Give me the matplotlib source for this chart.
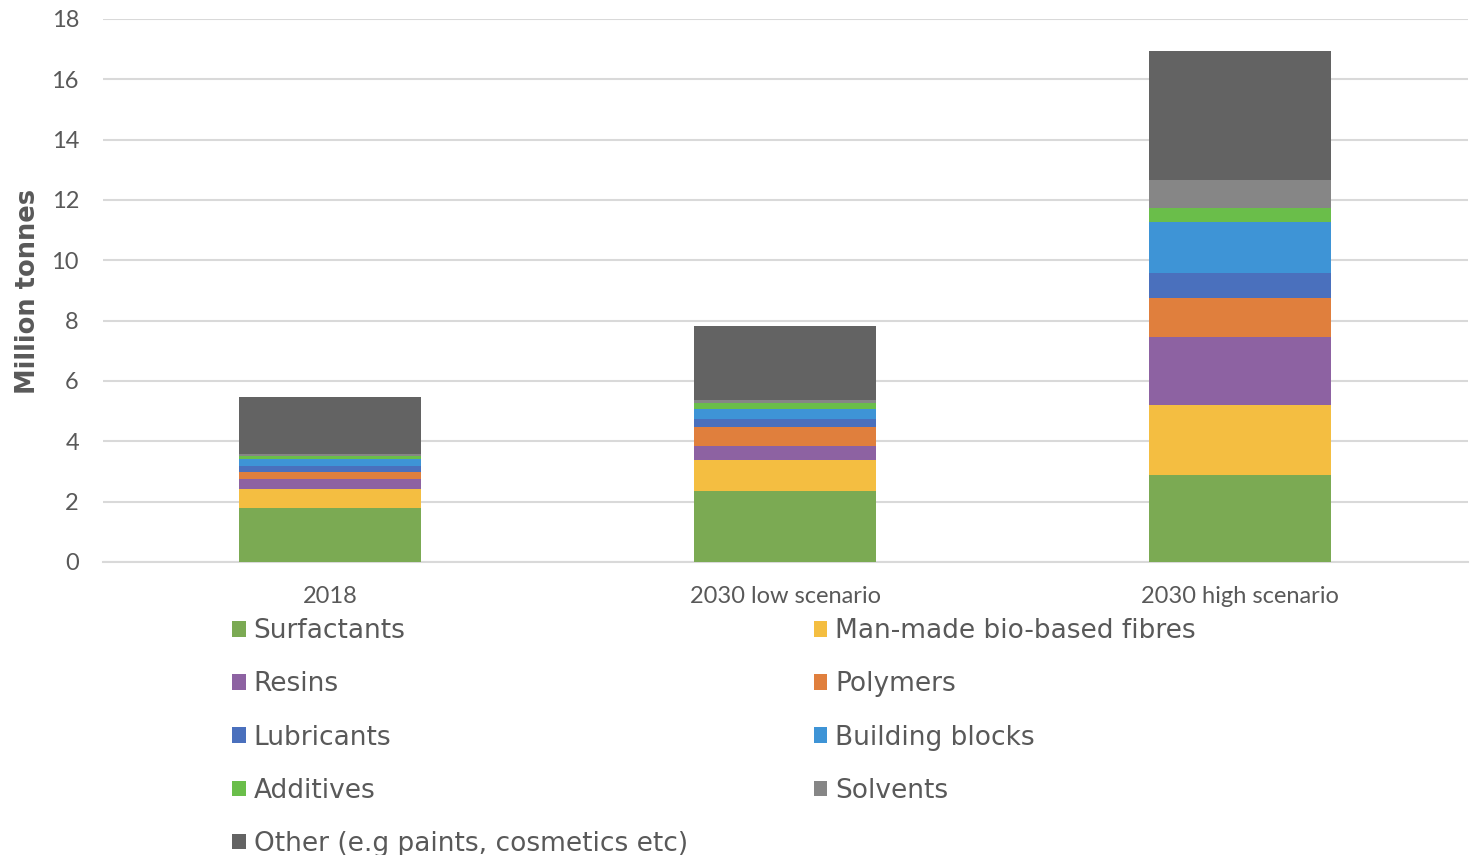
import matplotlib.pyplot as plt
import numpy as np

# Bio-based chemicals production (million tonnes)
categories = ['2018', '2030 low scenario', '2030 high scenario']
series_names = ['Surfactants', 'Man-made bio-based fibres', 'Resins', 'Polymers',
                'Lubricants', 'Building blocks', 'Additives', 'Solvents',
                'Other (e.g paints, cosmetics etc)']
surfactants = [1.80, 2.35, 2.88]
fibres = [0.61, 1.02, 2.33]
resins = [0.33, 0.49, 2.25]
polymers = [0.24, 0.63, 1.29]
lubricants = [0.20, 0.24, 0.82]
building_blocks = [0.22, 0.33, 1.71]
additives = [0.12, 0.20, 0.45]
solvents = [0.05, 0.11, 0.92]
other = [1.91, 2.46, 4.28]

colors = ['#7BAA53', '#F4BE41', '#8D62A2', '#E07F3D', '#4A70BD',
          '#3E94D6', '#6ABE4A', '#868686', '#636363']

series = [surfactants, fibres, resins, polymers, lubricants,
          building_blocks, additives, solvents, other]

fig = plt.figure(figsize=(14.78, 8.55), dpi=100)
ax = fig.add_axes([0.0694, 0.3427, 0.9235, 0.6351])

x = np.arange(len(categories))
bottom = np.zeros(len(categories))
handles = []
for name, vals, col in zip(series_names, series, colors):
    bars = ax.bar(x, vals, width=0.4, bottom=bottom, color=col, label=name, zorder=3)
    handles.append(bars)
    bottom += np.array(vals)

ax.set_xlim(-0.5, 2.5)
ax.set_ylim(0, 18)
ax.set_yticks(range(0, 19, 2))
ax.yaxis.grid(True, color='#D9D9D9', linewidth=1.5, zorder=0)
ax.set_axisbelow(True)
for side in ['top', 'right', 'left']:
    ax.spines[side].set_visible(False)
ax.spines['bottom'].set_color('#D9D9D9')
ax.spines['bottom'].set_linewidth(1.5)
ax.tick_params(axis='both', length=0)
ax.tick_params(axis='y', pad=17)
ax.tick_params(axis='x', pad=17)
ax.set_xticks(x)
ax.set_xticklabels(categories)
for lbl in ax.get_xticklabels() + ax.get_yticklabels():
    lbl.set_fontfamily('Lato')
    lbl.set_fontsize(17)
    lbl.set_color('#595959')

fig.text(0.019, 0.659, 'Million tonnes', rotation=90, ha='center', va='center',
         fontsize=18.5, fontweight='bold', color='#595959')

# two columns, filled row by row
order = [0, 2, 4, 6, 8, 1, 3, 5, 7]
leg = fig.legend([handles[i] for i in order], [series_names[i] for i in order],
                 ncol=2, loc='upper left', bbox_to_anchor=(0.157, 0.277),
                 frameon=False, fontsize=19, handlelength=0.52, handleheight=0.52,
                 handletextpad=0.3, labelspacing=1.03, columnspacing=4.77,
                 borderaxespad=0, borderpad=0)
for t in leg.get_texts():
    t.set_color('#595959')

fig.savefig('out.png', dpi=100)
